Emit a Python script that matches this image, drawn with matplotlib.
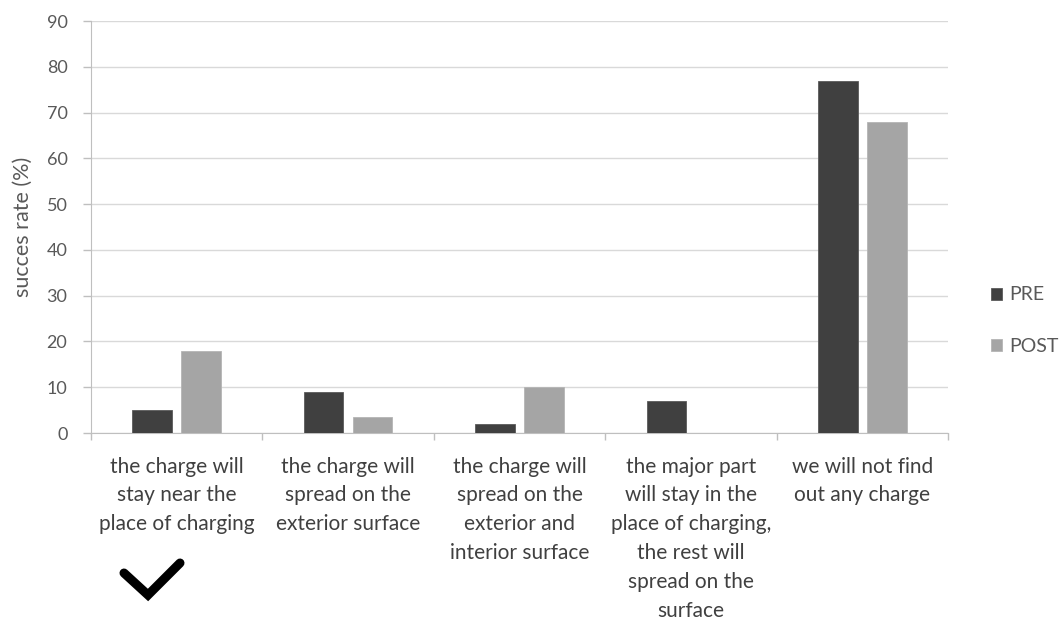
import matplotlib
matplotlib.use("Agg")
import matplotlib.pyplot as plt
import numpy as np
from matplotlib.lines import Line2D

categories = [
    "the charge will\nstay near the\nplace of charging",
    "the charge will\nspread on the\nexterior surface",
    "the charge will\nspread on the\nexterior and\ninterior surface",
    "the major part\nwill stay in the\nplace of charging,\nthe rest will\nspread on the\nsurface",
    "we will not find\nout any charge",
]
pre = [5, 9, 2, 7, 77]
post = [18, 3.6, 10, 0, 68]
series_names = ["PRE", "POST"]
yticks = [0, 10, 20, 30, 40, 50, 60, 70, 80, 90]

plt.rcParams['font.family'] = ['Lato', 'DejaVu Sans']

W, H = 1063, 621
fig = plt.figure(figsize=(W/100, H/100), dpi=100)
ax = fig.add_axes([91/W, 1-433/H, (948-91)/W, (433-21)/H])

x = np.arange(len(categories))
bw = 0.23
off = 0.143
ax.bar(x - off, pre, bw, color="#404040", edgecolor="#5a5a5a", linewidth=0.6, label=series_names[0], zorder=3)
ax.bar(x + off, post, bw, color="#a5a5a5", edgecolor="#b5b5b5", linewidth=0.6, label=series_names[1], zorder=3)

ax.set_xlim(-0.5, len(categories) - 0.5)
ax.set_ylim(0, 90)
ax.set_yticks(yticks)
ax.set_yticklabels([str(v) for v in yticks])
ax.yaxis.grid(True, color="#d9d9d9", linewidth=1.0, zorder=0)
ax.set_axisbelow(True)

for s in ["top", "right"]:
    ax.spines[s].set_visible(False)
ax.spines["left"].set_color("#bfbfbf")
ax.spines["bottom"].set_color("#bfbfbf")

ax.tick_params(axis="y", colors="#bfbfbf", labelcolor="#595959", labelsize=13, length=6, width=1, pad=11)
ax.set_xticks(x)
ax.set_xticklabels(categories, fontsize=15, color="#404040", linespacing=1.55, va="top")
ax.tick_params(axis="x", length=0, pad=17)
ax.set_xticks(np.arange(-0.5, len(categories)), minor=True)
ax.tick_params(axis="x", which="minor", length=5, color="#bfbfbf", width=1)

ax.set_ylabel("succes rate (%)", fontsize=15.5, color="#595959", labelpad=10)

leg = fig.legend(loc="center left", bbox_to_anchor=(991/W, 1-320.5/H), frameon=False,
                 fontsize=14, handlelength=0.57, handleheight=0.57, labelspacing=1.75,
                 handletextpad=0.36, borderpad=0, borderaxespad=0)
for t in leg.get_texts():
    t.set_color("#595959")

# checkmark annotation
px = [124, 148, 180]
py = [573, 595, 563]
fig.add_artist(Line2D([p/W for p in px], [1-p/H for p in py], transform=fig.transFigure,
                      color="black", linewidth=6.5, solid_capstyle="round", solid_joinstyle="miter"))

fig.savefig("out.png", dpi=100)
